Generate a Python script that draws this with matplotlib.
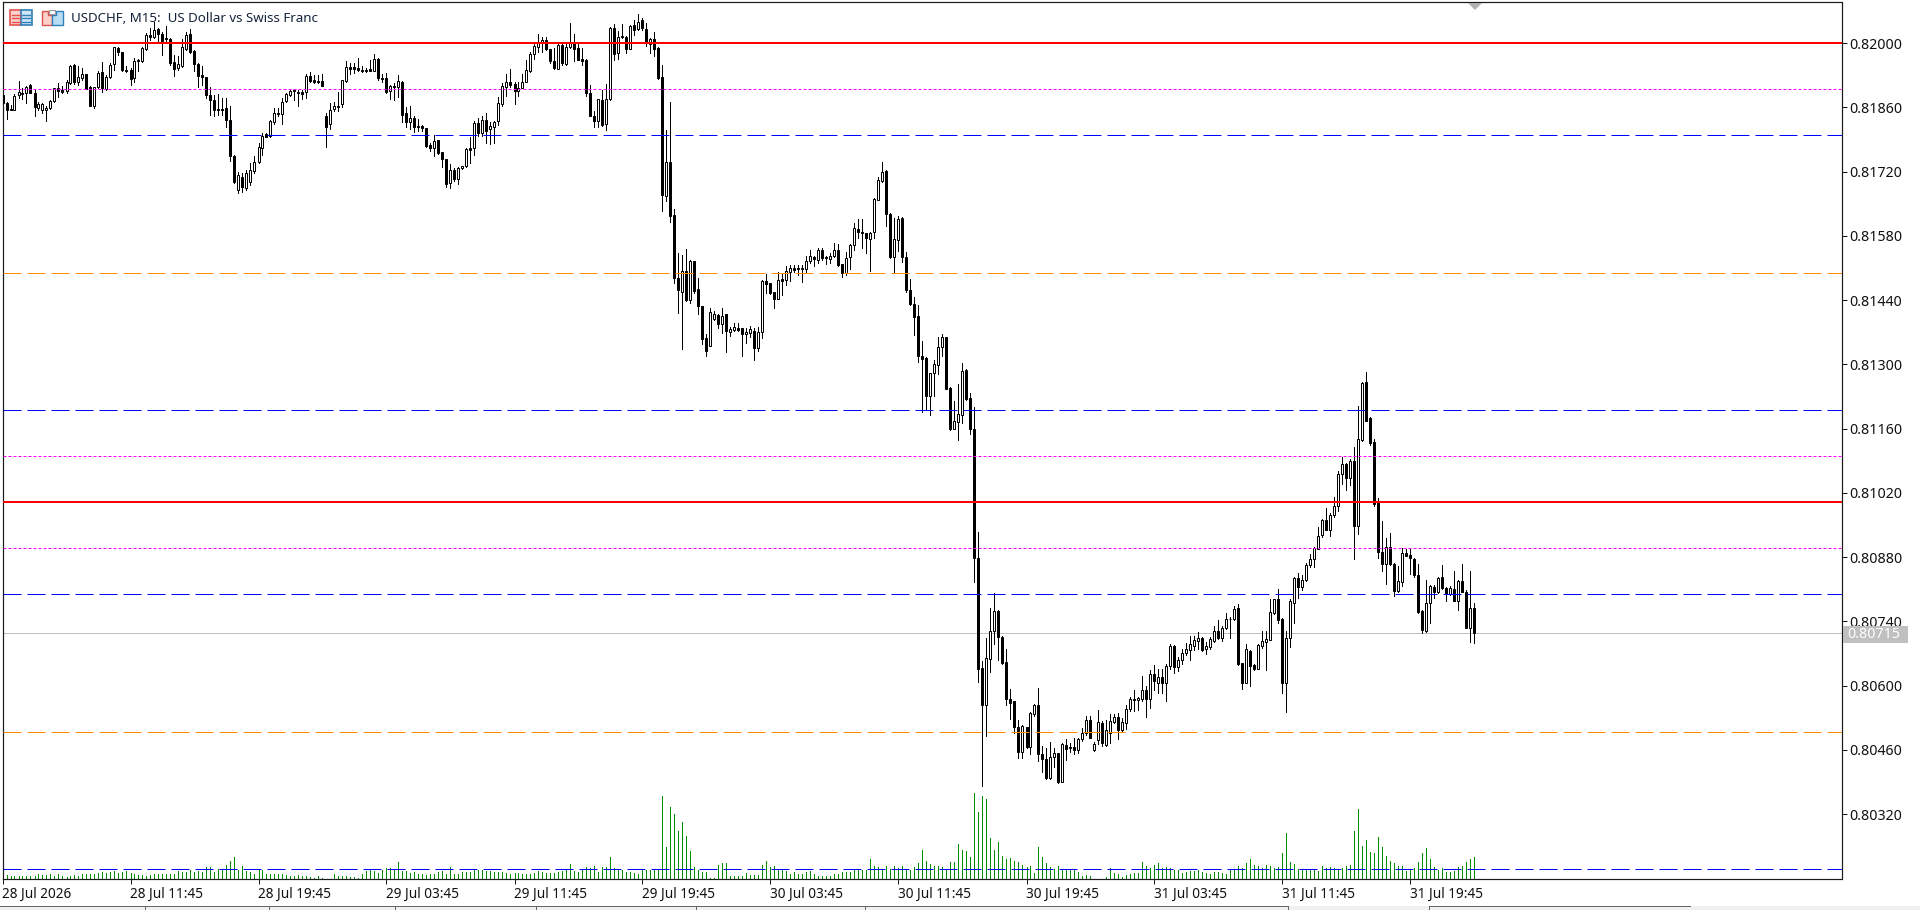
import matplotlib
matplotlib.use("Agg")
import matplotlib.pyplot as plt
from matplotlib.patches import Rectangle, Polygon
import numpy as np

# Prices are stored as points above 0.80000 (1 point = 0.00001)
opens = [
1887,1869,1857,1854,1886,1891,1891,1909,1891,1858,
1853,1853,1858,1873,1901,1898,1895,1912,1952,1915,
1924,1933,1904,1863,1904,1936,1900,1926,1954,1990,
1980,1941,1941,1923,1962,1960,1988,2017,2013,2030,
2019,2010,2009,1959,1946,1949,1988,2020,1982,1955,
1930,1925,1886,1875,1856,1857,1859,1833,1754,1680,
1709,1684,1698,1722,1740,1772,1801,1798,1827,1848,
1845,1874,1887,1897,1894,1893,1893,1928,1919,1917,
1917,1841,1824,1857,1862,1867,1918,1947,1947,1945,
1941,1941,1943,1940,1965,1923,1923,1896,1907,1905,
1915,1847,1827,1837,1819,1819,1814,1778,1771,1789,
1762,1748,1695,1724,1703,1727,1731,1771,1771,1825,
1805,1832,1812,1818,1829,1867,1905,1915,1911,1896,
1903,1916,1940,1975,1992,2000,2006,1986,1960,1944,
1996,1955,1991,2003,1989,1965,1963,1891,1842,1829,
1876,1823,1878,2032,1979,2015,2013,1987,2039,2031,
2050,2031,1998,2009,1989,1925,1666,1740,1626,1488,
1458,1503,1440,1524,1464,1427,1357,1340,1399,1407,
1387,1409,1371,1375,1380,1378,1365,1369,1373,1336,
1370,1481,1477,1457,1443,1486,1484,1501,1510,1509,
1509,1508,1524,1534,1527,1549,1533,1530,1536,1549,
1518,1498,1533,1559,1595,1588,1586,1573,1588,1659,
1700,1721,1627,1533,1570,1619,1533,1461,1431,1405,
1318,1313,1230,1281,1299,1337,1359,1248,1160,1175,
1190,1287,1226,1160,878,638,557,659,718,762,
706,651,570,566,509,455,509,466,538,557,
450,440,398,444,453,390,470,467,466,459,
483,496,525,459,482,518,471,497,520,531,
503,519,549,571,568,571,590,570,625,606,
618,605,642,687,641,656,670,678,687,698,
703,680,685,698,720,703,725,746,745,768,
649,606,676,644,637,687,696,700,759,788,
745,606,703,781,834,815,829,862,875,898,
928,961,940,972,991,1061,1082,1053,1089,947,
1134,1261,1183,1131,998,891,864,902,865,806,
826,889,884,875,842,763,720,781,814,804,
836,813,800,810,785,828,804,726,768]

highs = [
1887,1872,1865,1889,1917,1901,1907,1911,1898,1872,
1870,1863,1876,1902,1912,1907,1920,1952,1955,1949,
1945,1933,1907,1905,1938,1958,1931,1956,1992,1992,
1981,1950,1945,1967,1965,1992,2021,2032,2045,2032,
2023,2036,2010,1974,1971,2008,2024,2030,1984,1956,
1949,1927,1905,1887,1889,1880,1880,1863,1756,1720,
1716,1724,1738,1753,1782,1803,1805,1833,1858,1858,
1880,1891,1899,1899,1898,1898,1933,1936,1931,1930,
1932,1847,1870,1872,1893,1920,1960,1956,1956,1967,
1950,1945,1963,1976,1967,1933,1934,1909,1912,1930,
1918,1860,1862,1840,1834,1822,1815,1783,1800,1789,
1762,1748,1737,1727,1729,1733,1771,1795,1831,1836,
1840,1847,1827,1831,1882,1912,1933,1943,1916,1916,
1933,1963,1981,2000,2019,2012,2013,1986,1989,2000,
1998,2000,2043,2019,2001,1989,1965,1909,1851,1878,
1898,1911,2034,2042,2027,2042,2016,2040,2050,2063,
2054,2043,2010,2024,1991,1952,1811,1872,1638,1542,
1538,1551,1528,1525,1488,1427,1366,1422,1416,1409,
1422,1409,1382,1389,1389,1380,1379,1384,1379,1382,
1484,1497,1478,1457,1501,1497,1514,1517,1517,1517,
1517,1535,1549,1536,1553,1553,1535,1543,1565,1562,
1518,1544,1562,1607,1617,1617,1587,1589,1662,1709,
1740,1723,1629,1618,1623,1622,1544,1485,1446,1429,
1351,1315,1282,1310,1359,1366,1360,1250,1220,1257,
1302,1289,1237,1208,934,654,703,768,801,765,
709,679,593,566,525,514,510,543,560,594,
469,463,478,464,454,474,483,476,486,486,
507,534,534,478,547,522,524,539,539,541,
529,557,575,590,575,621,600,635,645,636,
636,646,690,688,663,680,692,709,707,717,
705,694,705,730,744,730,758,749,774,778,
650,690,678,646,690,720,719,789,789,810,
747,719,789,836,845,842,867,887,902,946,
963,988,976,1011,1067,1097,1084,1093,1120,1209,
1261,1284,1186,1137,1009,958,921,933,868,860,
900,898,900,878,865,765,830,820,820,837,
862,814,818,849,830,864,809,849,780]

lows = [
1869,1834,1853,1854,1880,1878,1870,1890,1840,1854,
1847,1831,1856,1872,1882,1892,1891,1911,1910,1909,
1920,1899,1862,1858,1902,1894,1898,1923,1941,1974,
1938,1936,1909,1916,1940,1958,1985,2007,2010,2005,
1974,2003,1952,1928,1941,1947,1985,1978,1938,1904,
1909,1880,1843,1840,1843,1843,1817,1744,1695,1674,
1676,1679,1691,1716,1738,1756,1795,1796,1824,1840,
1824,1872,1885,1876,1862,1879,1880,1915,1912,1912,
1907,1774,1812,1851,1851,1860,1916,1933,1934,1939,
1936,1936,1938,1938,1920,1916,1892,1878,1875,1883,
1827,1817,1813,1806,1809,1809,1774,1764,1753,1758,
1729,1686,1685,1700,1693,1726,1729,1738,1756,1798,
1798,1782,1780,1782,1822,1863,1885,1905,1867,1885,
1902,1914,1936,1965,1981,1981,1984,1956,1943,1943,
1952,1951,1989,1960,1962,1952,1885,1840,1818,1818,
1819,1811,1876,1962,1965,2010,1979,1986,2018,2029,
2029,1994,1979,1972,1921,1635,1655,1611,1478,1411,
1334,1437,1433,1455,1410,1344,1319,1339,1397,1380,
1368,1326,1362,1373,1373,1317,1346,1360,1310,1328,
1357,1456,1453,1422,1442,1450,1472,1482,1501,1495,
1480,1498,1520,1515,1520,1527,1519,1520,1533,1515,
1490,1495,1507,1548,1575,1553,1543,1504,1575,1658,
1698,1602,1531,1498,1547,1522,1458,1429,1364,1306,
1195,1203,1190,1232,1279,1318,1246,1156,1159,1134,
1173,1222,1148,826,608,382,491,629,691,656,
646,557,528,496,442,442,464,450,534,436,
412,396,396,422,388,389,438,456,450,453,
480,493,485,457,473,468,469,474,518,484,
502,506,544,544,547,567,532,552,590,583,
583,567,636,627,631,646,667,655,677,680,
676,668,680,696,702,697,723,703,742,645,
593,605,600,633,636,681,635,699,757,736,
583,543,684,737,791,809,827,859,858,897,
923,938,927,967,980,1040,1027,1038,876,931,
1133,1176,1125,992,879,849,822,862,795,804,
817,882,843,837,759,714,717,736,791,801,
810,784,797,784,765,804,725,696,693]

closes = [
1869,1854,1855,1885,1893,1888,1905,1891,1860,1867,
1867,1859,1873,1901,1896,1894,1915,1950,1915,1926,
1933,1900,1863,1904,1934,1901,1926,1952,1991,1980,
1942,1939,1922,1960,1960,1989,2017,2012,2029,2019,
2005,2009,1957,1944,1954,1991,2018,1981,1954,1929,
1925,1887,1875,1854,1854,1855,1833,1753,1698,1713,
1687,1716,1724,1740,1774,1798,1796,1830,1847,1846,
1872,1888,1896,1896,1891,1889,1928,1917,1915,1916,
1907,1818,1854,1862,1861,1919,1947,1944,1944,1941,
1939,1938,1939,1966,1923,1922,1894,1906,1905,1917,
1844,1827,1836,1818,1817,1814,1776,1772,1786,1761,
1747,1693,1723,1703,1727,1732,1769,1767,1825,1805,
1832,1809,1819,1827,1869,1906,1914,1909,1896,1903,
1916,1941,1976,1994,2001,2006,1986,1960,1946,1995,
1956,1992,2003,1987,1963,1960,1892,1841,1831,1878,
1822,1878,2032,1976,2013,2012,1988,2038,2029,2045,
2032,2000,2009,1988,1923,1668,1740,1624,1488,1461,
1504,1440,1525,1460,1426,1355,1330,1413,1409,1387,
1405,1373,1376,1381,1375,1366,1370,1376,1336,1370,
1481,1476,1456,1443,1483,1482,1503,1509,1506,1507,
1507,1525,1535,1529,1549,1531,1531,1537,1549,1517,
1498,1531,1560,1597,1588,1586,1576,1586,1660,1701,
1719,1627,1533,1572,1617,1533,1461,1431,1404,1319,
1312,1232,1281,1301,1337,1359,1247,1159,1176,1191,
1285,1225,1159,877,637,557,661,719,762,705,
650,570,563,509,456,511,466,540,557,450,
441,398,444,453,389,472,461,464,459,483,
496,525,486,473,520,476,503,522,531,503,
520,549,571,568,573,590,570,625,609,618,
606,643,687,641,656,671,679,690,700,703,
678,686,701,719,704,725,746,745,766,647,
606,679,643,637,688,697,702,761,788,743,
606,703,784,834,815,830,863,875,900,927,
961,940,972,991,1061,1082,1053,1089,947,1137,
1259,1177,1128,995,890,864,901,864,806,827,
889,883,877,841,761,722,781,817,803,835,
813,799,812,785,828,805,726,768,715]

volumes = [
50,40,33,27,27,27,27,27,33,53,40,40,47,33,47,33,23,30,40,33,53,47,47,53,60,67,60,67,80,60,67,80,
60,47,40,40,33,40,47,47,47,53,47,47,
80,67,67,87,73,80,73,120,120,67,100,93,140,180,220,93,130,80,67,47,
87,87,47,53,47,50,53,40,33,33,40,27,27,20,13,27,13,0,0,53,33,27,27,20,20,13,47,80,100,80,60,93,
107,107,100,170,80,80,60,67,53,47,40,47,53,73,80,47,123,47,47,67,73,67,87,87,87,80,80,73,67,67,60,53,
60,60,47,47,53,60,80,73,60,60,60,67,80,93,150,80,67,93,120,113,133,67,120,120,220,113,100,87,73,73,60,47,
87,87,93,87,100,830,317,720,647,480,567,430,280,117,90,73,73,10,13,140,160,160,30,30,30,27,63,43,43,40,140,180,
120,130,93,87,80,47,67,53,53,67,80,47,27,33,33,33,53,53,67,73,73,93,100,93,87,200,133,120,100,127,100,133,
113,127,87,87,117,160,290,180,147,127,133,120,93,173,170,350,
287,277,220,865,669,830,802,410,287,371,235,200,210,182,172,140,122,130,60,322,
220,158,119,101,130,88,88,88,88,66,35,42,35,0,0,0,25,112,60,52,
25,38,52,60,60,172,130,112,140,161,112,122,112,88,88,60,70,77,77,88,
70,63,52,70,70,63,52,88,88,130,115,161,200,143,130,108,140,130,112,122,
259,462,172,150,101,94,94,88,94,80,130,115,122,108,94,115,130,140,480,696,
332,388,266,262,420,322,235,182,164,130,130,77,88,112,172,259,311,200,122,94,
112,66,66,77,122,130,172,196,220]

solid_levels = [0.82000, 0.81000]
dotted_levels = [0.81900, 0.81100, 0.80900]
blue_levels = [0.81800, 0.81200, 0.80800, 0.80200]
orange_levels = [0.81500, 0.80500]

price_ticks = [0.82000, 0.81860, 0.81720, 0.81580, 0.81440, 0.81300, 0.81160,
               0.81020, 0.80880, 0.80740, 0.80600, 0.80460, 0.80320]
time_tick_bars = [0, 32, 64, 96, 128, 160, 192, 224, 256, 288, 320, 352]
time_labels = ["28 Jul 2026", "28 Jul 11:45", "28 Jul 19:45", "29 Jul 03:45",
               "29 Jul 11:45", "29 Jul 19:45", "30 Jul 03:45", "30 Jul 11:45",
               "30 Jul 19:45", "31 Jul 03:45", "31 Jul 11:45", "31 Jul 19:45"]
title_text = "USDCHF, M15:  US Dollar vs Swiss Franc"

plt.rcParams['font.family'] = ['Noto Sans', 'DejaVu Sans']
plt.rcParams['lines.scale_dashes'] = False
W, H = 1920, 910
DPI = 100
PX = 72 / DPI

o = 0.8 + np.array(opens) * 1e-5
h = 0.8 + np.array(highs) * 1e-5
l = 0.8 + np.array(lows) * 1e-5
c = 0.8 + np.array(closes) * 1e-5
v = np.array(volumes)
x = np.arange(len(o))
assert len({len(o), len(h), len(l), len(c), len(v)}) == 1, (len(o), len(h), len(l), len(c), len(v))

fig = plt.figure(figsize=(W / DPI, H / DPI), dpi=DPI, facecolor='white')
L, R, T, B = 2.5, 1841.5, 2, 879
rect = [L / W, 1 - B / H, (R - L) / W, (B - T) / H]

axv = fig.add_axes(rect, zorder=1)
axv.set_xlim(0, (R - L) / 4)
axv.set_ylim(0, 8770)
axv.axis('off')
axv.vlines(x, 0, v, color='#009000', lw=PX, antialiased=False)

ax = fig.add_axes(rect, zorder=2)
ax.patch.set_alpha(0)
ax.set_xlim(0, (R - L) / 4)
ax.set_ylim(0.82 - (B - 43) / 45900, 0.82 + (43 - T) / 45900)

ax.axhline(c[-1], color='#c0c0c0', lw=PX, zorder=1)

ax.vlines(x, l, h, color='black', lw=PX, zorder=2, antialiased=False)
up = c >= o
body_low = np.minimum(o, c)
body_h = np.abs(c - o)
ax.bar(x[up], body_h[up], bottom=body_low[up], width=0.5, facecolor='white',
       edgecolor='black', linewidth=PX, zorder=3)
ax.bar(x[~up], body_h[~up], bottom=body_low[~up], width=0.5, facecolor='black',
       edgecolor='black', linewidth=PX, zorder=3)

for y in blue_levels:
    ax.axhline(y, color='#0000ff', lw=PX, ls=(0, (18 * PX, 6 * PX)), zorder=4)
for y in orange_levels:
    ax.axhline(y, color='#ff8c00', lw=PX, ls=(0, (18 * PX, 6 * PX)), zorder=4)
for y in dotted_levels:
    ax.axhline(y, color='#ff00ff', lw=PX, ls=(0, (3 * PX, 2 * PX)), zorder=4)
for y in solid_levels:
    ax.axhline(y, color='#ff0000', lw=2 * PX, zorder=4)

for s in ax.spines.values():
    s.set_color('#1a1a1a')
    s.set_linewidth(PX * 1.2)

ax.yaxis.tick_right()
ax.set_yticks(price_ticks)
ax.set_yticklabels([f"{p:.5f}" for p in price_ticks], fontsize=10.2, color='#111111')
ax.tick_params(axis='y', length=3.6, width=PX, color='#1a1a1a', pad=2)
ax.set_xticks(time_tick_bars)
ax.set_xticklabels(time_labels, fontsize=9.8, color='#111111', ha='left')
ax.tick_params(axis='x', length=3.6, width=PX, color='#1a1a1a', pad=2)

# Overlay in pixel coordinates for window furniture
ov = fig.add_axes([0, 0, 1, 1], zorder=5)
ov.set_xlim(0, W)
ov.set_ylim(H, 0)
ov.axis('off')
ov.patch.set_alpha(0)

ov.text(71, 19, title_text, fontsize=9.6, color='#14233a', va='center', ha='left')

# chart-window icons
ov.add_patch(Rectangle((10, 10), 11, 15, fc='#f9d2cf', ec='#e5534b', lw=1.2))
ov.add_patch(Rectangle((21, 10), 11, 15, fc='#cfe5f5', ec='#2f7fb8', lw=1.2))
for yy in (14.5, 18, 21.5):
    ov.plot([12, 20], [yy, yy], color='#e5534b', lw=1)
    ov.plot([22, 30], [yy, yy], color='#2f7fb8', lw=1)
ov.add_patch(Polygon([(42, 11), (48, 11), (48, 15), (52, 15), (52, 25), (42, 25)],
                     closed=True, fc='#fbd0c8', ec='#d9534f', lw=1))
ov.add_patch(Polygon([(52, 15), (56, 15), (56, 11), (63, 11), (63, 25), (52, 25)],
                     closed=True, fc='#b9dcf5', ec='#2f7fb8', lw=1))
ov.add_patch(Rectangle((49, 10), 6, 3.5, fc='white', ec='#999999', lw=0.8))

# shift marker at the top
ov.add_patch(Polygon([(1468, 3), (1482, 3), (1475, 10)], closed=True, fc='#b0b0b0', ec='none'))

# last-price label
ov.add_patch(Rectangle((1843, 626), 65, 17, fc='#c0c0c0', ec='none'))
ov.text(1847, 634.5, f"{c[-1]:.5f}", fontsize=10.2, color='white', va='center', ha='left')

# bottom tab strip
ov.add_patch(Rectangle((0, 906), W, 4, fc='#f0f0f0', ec='none'))
ov.plot([0, 1288], [906, 906], color='#666666', lw=PX)
ov.plot([1429, 1690], [906, 906], color='#666666', lw=PX)
for sx in (144.5, 269, 395, 536, 696, 865, 1288, 1429):
    ov.plot([sx, sx], [906, 910], color='#666666', lw=PX)

fig.savefig('out.png', dpi=DPI, facecolor='white')
